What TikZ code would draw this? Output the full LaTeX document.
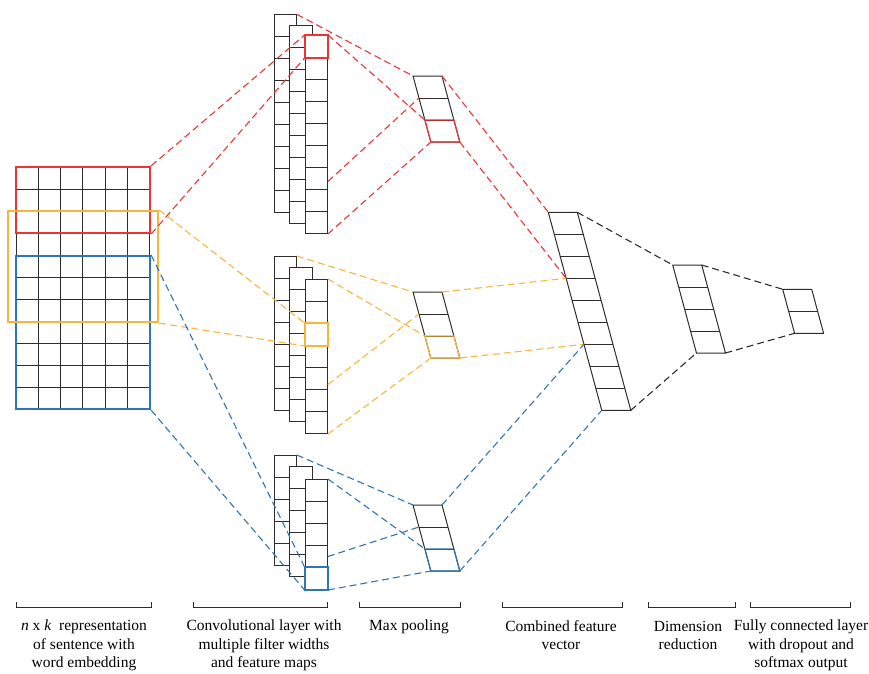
\documentclass[tikz,border=0pt]{standalone}
\usepackage{fontspec}
\setmainfont{Liberation Serif}
\usetikzlibrary{positioning, fit, calc}

\definecolor{winred}{RGB}{235,52,52}
\definecolor{winorange}{RGB}{246,182,60}
\definecolor{winblue}{RGB}{46,117,182}
\definecolor{cellgray}{RGB}{45,45,45}

\tikzset{
  cellline/.style={draw=cellgray, line width=1pt},
  ccell/.style={cellline, fill=white, minimum width=22.3pt, minimum height=22pt, inner sep=0pt, anchor=north west},
  win/.style={draw=#1, line width=2.2pt, inner sep=0pt},
  hlbox/.style={draw=#1, line width=2pt},
  hlvec/.style={draw=#1, line width=1.2pt},
  link/.style={draw=#1, line width=1.1pt, dash pattern=on 7pt off 4pt},
  caption/.style={font=\fontsize{15.5}{18.5}\selectfont, align=center, inner sep=0pt, anchor=north},
}

% one column of a feature map: name, x, y, cells
\newcommand{\convcol}[4]{%
  \foreach \k in {1,...,#4}
    \node[ccell] (#1-\k) at (#2, {#3+(\k-1)*22}) {};
}

% slanted vector: name, x, y, cells
\newcommand{\slvec}[4]{%
  \foreach \i in {0,...,#4} {
    \coordinate (#1-l\i) at ({#2+0.27*22*\i}, {#3+22*\i});
    \coordinate (#1-r\i) at ({#2+0.27*22*\i+29}, {#3+22*\i});
  }
  \draw[cellline] (#1-r0) -- (#1-l0) -- (#1-l#4) -- (#1-r#4) -- cycle;
  \pgfmathtruncatemacro\lastin{#4-1}
  \foreach \i in {1,...,\lastin}
    \draw[cellline] (#1-l\i) -- (#1-r\i);
}

\begin{document}
\begin{tikzpicture}[x=1pt, y=-1pt]
  \useasboundingbox (0,0) rectangle (869,673);

  % sentence matrix
  \foreach \i in {0,...,6}
    \draw[cellline] ({16+\i*22.33},167) -- ({16+\i*22.33},409);
  \foreach \j in {0,...,11}
    \draw[cellline] (16,{167+\j*22}) -- (150,{167+\j*22});
  \node[win=winred, fit={(16,167) (150,233)}] (inred) {};
  \node[win=winblue, fit={(16,256) (150,409)}] (inblue) {};
  \node[win=winorange, fit={(8,211) (158,322)}] (inorange) {};

  % feature maps
  \convcol{tc1}{273.5}{14.3}{9}
  \convcol{tc2}{289.3}{24.5}{9}
  \convcol{tc3}{304.6}{35}{9}
  \convcol{mc1}{273.5}{256}{7}
  \convcol{mc2}{289.3}{266.7}{7}
  \convcol{mc3}{304.6}{279}{7}
  \convcol{bc1}{273.5}{455}{5}
  \convcol{bc2}{289.3}{465.7}{5}
  \convcol{bc3}{304.6}{479}{5}
  \draw[hlbox=winred] (tc3-1.north west) rectangle (tc3-1.south east);
  \draw[hlbox=winorange] (mc3-3.north west) rectangle (mc3-3.south east);
  \draw[hlbox=winblue] (bc3-5.north west) rectangle (bc3-5.south east);

  % pooled, combined, reduced, output
  \slvec{pt}{413}{76}{3}
  \slvec{pm}{413}{292}{3}
  \slvec{pb}{413}{505}{3}
  \slvec{cv}{548.3}{212.3}{9}
  \slvec{dr}{672.7}{265}{4}
  \slvec{fc}{782.7}{289.3}{2}
  \draw[hlvec=winred] (pt-l2) -- (pt-r2) -- (pt-r3) -- (pt-l3) -- cycle;
  \draw[hlvec=winorange] (pm-l2) -- (pm-r2) -- (pm-r3) -- (pm-l3) -- cycle;
  \draw[hlvec=winblue] (pb-l2) -- (pb-r2) -- (pb-r3) -- (pb-l3) -- cycle;

  % red path
  \draw[link=winred] (inred.north east) -- (tc3-1.north west);
  \draw[link=winred] (inred.south east) -- (tc3-1.south west);
  \draw[link=winred] (tc1-1.north east) -- (pt-l0);
  \draw[link=winred] (tc3-1.north east) -- (pt-l2);
  \draw[link=winred] ([yshift=-3pt]tc3-7.east) -- (pt-l1);
  \draw[link=winred] (tc3-9.south east) -- (pt-l3);
  \draw[link=winred] (pt-r0) -- (cv-l0);
  \draw[link=winred] (pt-r3) -- (cv-l3);

  % orange path
  \draw[link=winorange] (inorange.north east) -- (mc3-3.north west);
  \draw[link=winorange] (inorange.south east) -- (mc3-3.south west);
  \draw[link=winorange] (mc1-1.north east) -- (pm-l0);
  \draw[link=winorange] (mc3-1.north east) -- (pm-l2);
  \draw[link=winorange] ([yshift=-6pt]mc3-5.east) -- (pm-l1);
  \draw[link=winorange] (mc3-7.south east) -- (pm-l3);
  \draw[link=winorange] (pm-r0) -- (cv-l3);
  \draw[link=winorange] (pm-r3) -- (cv-l6);

  % blue path
  \draw[link=winblue] (inblue.north east) -- (bc3-5.north west);
  \draw[link=winblue] (inblue.south east) -- (bc3-5.south west);
  \draw[link=winblue] (bc1-1.north east) -- (pb-l0);
  \draw[link=winblue] (bc3-1.north east) -- (pb-l2);
  \draw[link=winblue] (bc3-4.east) -- (pb-l1);
  \draw[link=winblue] (bc3-5.south east) -- (pb-l3);
  \draw[link=winblue] (pb-r0) -- (cv-l6);
  \draw[link=winblue] (pb-r3) -- (cv-l9);

  % combined -> reduced -> output
  \draw[link=cellgray] (cv-r0) -- (dr-l0);
  \draw[link=cellgray] (cv-r9) -- (dr-l4);
  \draw[link=cellgray] (dr-r0) -- (fc-l0);
  \draw[link=cellgray] (dr-r4) -- (fc-l2);

  % brackets and captions
  \foreach \a/\b in {16.7/151, 193.3/327.3, 359.3/460.7, 502.7/622.7, 648.3/735, 750/850.7}
    \draw[cellline] (\a,602) -- (\a,607) -- (\b,607) -- (\b,602);
  \node[caption] (capinput) at (84,620) {\textit{n} x \textit{k}\ \ representation\\of sentence with\\word embedding};
  \node[caption] (capconv) at (264,620) {Convolutional layer with\\multiple filter widths\\and feature maps};
  \node[caption] (cappool) at (409,620) {Max pooling};
  \node[caption] (capcomb) at (561,620) {Combined feature\\vector};
  \node[caption] (capdim) at (688,621) {Dimension\\reduction};
  \node[caption] (capfc) at (801,620) {Fully connected layer\\with dropout and\\softmax output};
\end{tikzpicture}
\end{document}
